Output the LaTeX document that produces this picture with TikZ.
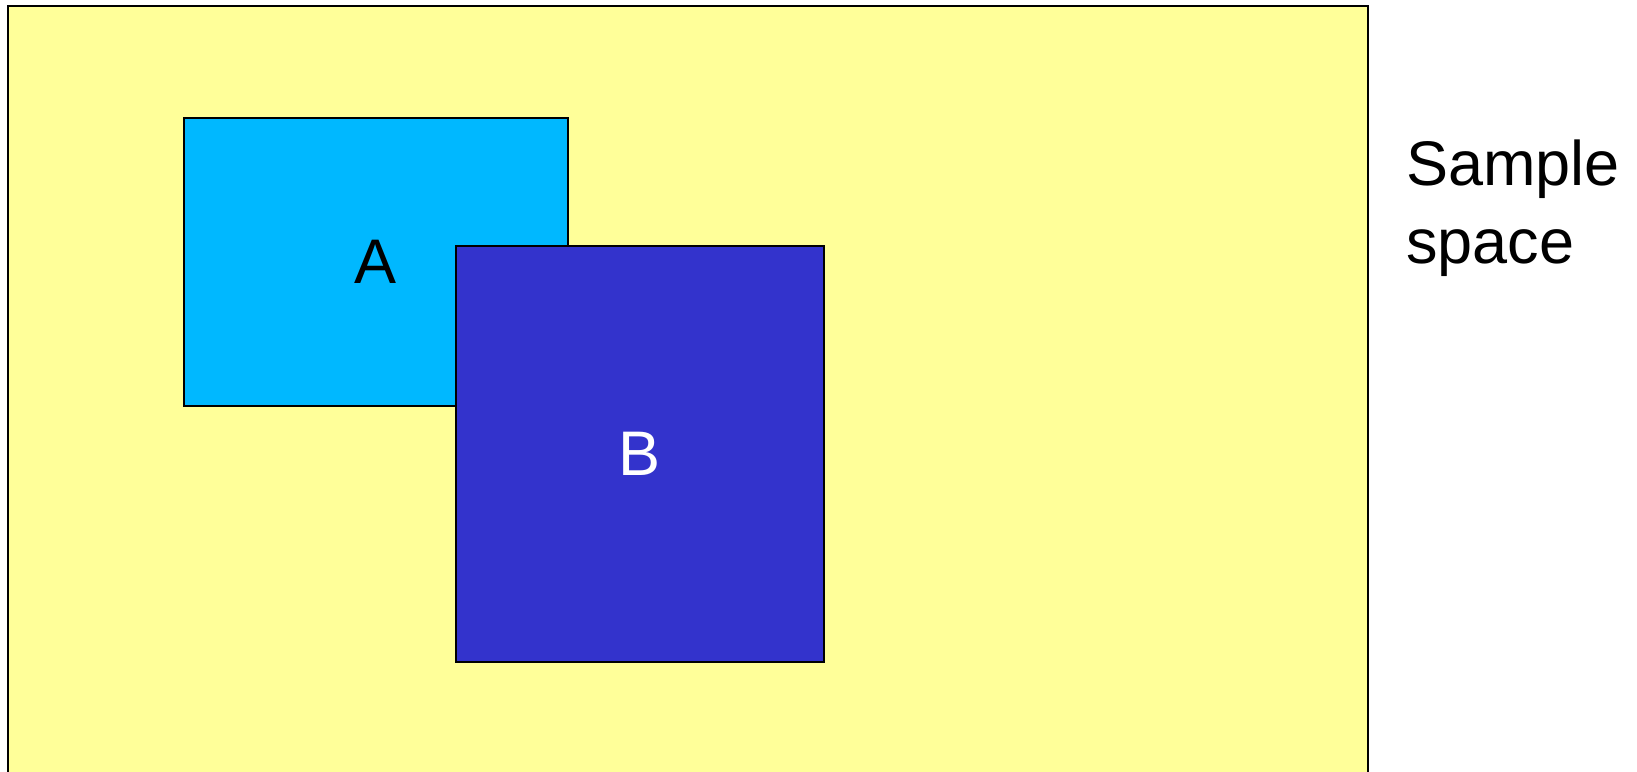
\documentclass[tikz,border=0pt]{standalone}
\usepackage{fontspec}
\setmainfont{Liberation Sans}
\definecolor{spaceyellow}{RGB}{255,255,153}
\definecolor{evA}{RGB}{0,184,255}
\definecolor{evB}{RGB}{51,51,204}
\begin{document}
\begin{tikzpicture}[x=1pt,y=-1pt,
  evbox/.style={draw=black, line width=2pt, rectangle, inner sep=0pt, font=\fontsize{63}{76}\selectfont},
  lbl/.style={inner sep=0pt, font=\fontsize{63}{78}\selectfont, align=left}]
\useasboundingbox (0,0) rectangle (1637,771);
\clip (0,0) rectangle (1637,771);
\node[evbox, fill=spaceyellow, minimum width=1360pt, minimum height=784pt] (S) at (688,398) {};
\node[evbox, fill=evA, minimum width=384pt, minimum height=288pt] (A) at (376,262) {\raisebox{-2pt}{A}};
\node[evbox, fill=evB, text=white, minimum width=368pt, minimum height=416pt] (B) at (640,454) {B};
\node[lbl, anchor=base west] (L) at (1406,263) {Sample\\space};
\end{tikzpicture}
\end{document}
